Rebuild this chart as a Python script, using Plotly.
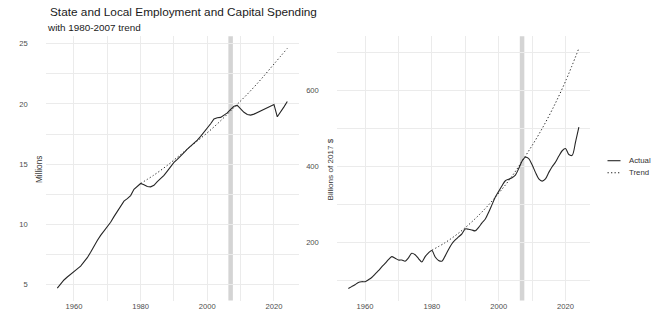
import plotly.graph_objects as go

# ---------------- data ----------------
years = list(range(1955, 2025))

employment = [
    4.73, 5.07, 5.40, 5.65, 5.85, 6.08, 6.32, 6.55, 6.87, 7.25,
    7.70, 8.22, 8.67, 9.10, 9.44, 9.82, 10.19, 10.65, 11.07, 11.45,
    11.94, 12.14, 12.40, 12.92, 13.17, 13.40, 13.30, 13.15, 13.12, 13.25,
    13.55, 13.80, 14.07, 14.42, 14.79, 15.15, 15.40, 15.65, 15.95, 16.25,
    16.50, 16.70, 17.00, 17.30, 17.65, 17.95, 18.35, 18.75, 18.85, 18.88,
    19.05, 19.25, 19.55, 19.80, 19.87, 19.60, 19.30, 19.12, 19.07, 19.15,
    19.28, 19.42, 19.55, 19.65, 19.80, 19.95, 18.93, 19.30, 19.75, 20.20,
]

capital = [
    79, 84, 89, 95, 97, 97, 102, 108, 117, 126,
    136, 145, 155, 163, 159, 154, 154, 151, 160, 172,
    168, 158, 149, 163, 173, 179, 162, 153, 151, 165,
    182, 197, 207, 215, 223, 236, 235, 233, 231, 240,
    252, 262, 280, 300, 320, 335, 350, 363, 367, 371,
    378, 395, 415, 425, 421, 405, 385, 368, 362, 368,
    385, 400, 412, 428, 442, 448, 432, 430, 465, 504,
]

trend_years = [1980, 1984, 1988, 1992, 1996, 2000, 2004, 2008, 2012, 2016, 2020, 2024]
employment_trend = [13.4, 14.1, 14.9, 15.8, 16.7, 17.6, 18.6, 19.7, 20.8, 22.0, 23.3, 24.6]
capital_trend = [180, 200, 225, 255, 290, 330, 375, 428, 485, 550, 625, 712]

recession_year = 2007

series_names = ["Actual", "Trend"]
title_text = "State and Local Employment and Capital Spending"
subtitle_text = "with 1980-2007 trend"
left_ylabel = "Millions"
right_ylabel = "Billions of 2017 $"

# ---------------- figure ----------------
W, H = 660, 330
FONT = "Liberation Sans, Arial, sans-serif"
LINE_COLOR = "#262626"
GRID = "#ebebeb"
TICK_COLOR = "#4d4d4d"
DOT = "1.3px,2.2px"

fig = go.Figure()

fig.add_trace(go.Scatter(x=years, y=employment, mode="lines", name=series_names[0],
                         line=dict(color=LINE_COLOR, width=1.1),
                         xaxis="x", yaxis="y", showlegend=False))
fig.add_trace(go.Scatter(x=trend_years, y=employment_trend, mode="lines", name=series_names[1],
                         line=dict(color=LINE_COLOR, width=1.0, dash=DOT, shape="spline"),
                         xaxis="x", yaxis="y", showlegend=False))
fig.add_trace(go.Scatter(x=years, y=capital, mode="lines", name=series_names[0],
                         line=dict(color=LINE_COLOR, width=1.1, shape="spline", smoothing=0.8),
                         xaxis="x2", yaxis="y2", showlegend=False))
fig.add_trace(go.Scatter(x=trend_years, y=capital_trend, mode="lines", name=series_names[1],
                         line=dict(color=LINE_COLOR, width=1.0, dash=DOT, shape="spline"),
                         xaxis="x2", yaxis="y2", showlegend=False))

def px_x(p):
    return p / W

def px_y(p):
    return 1 - p / H

xrange_ = [1951.55, 2027.45]
y_dom = [px_y(300.5), px_y(36.3)]

common_x = dict(range=xrange_, showline=False, zeroline=False, ticks="",
                tickvals=[1960, 1980, 2000, 2020],
                tickfont=dict(family=FONT, size=7.6, color=TICK_COLOR),
                showgrid=True, gridcolor=GRID, gridwidth=1,
                minor=dict(tickvals=[1950, 1970, 1990, 2010], showgrid=True,
                           gridcolor=GRID, gridwidth=0.6),
                automargin=False, fixedrange=True)
common_y = dict(showline=False, zeroline=False, ticks="",
                tickfont=dict(family=FONT, size=7.6, color=TICK_COLOR),
                showgrid=True, gridcolor=GRID, gridwidth=1,
                ticklabelstandoff=17, automargin=False, fixedrange=True)

fig.update_layout(
    width=W, height=H,
    margin=dict(l=0, r=0, t=0, b=0),
    paper_bgcolor="white", plot_bgcolor="white",
    xaxis=dict(domain=[px_x(45.8), px_x(298.8)], anchor="y", **common_x),
    xaxis2=dict(domain=[px_x(336.8), px_x(590.4)], anchor="y2", **common_x),
    yaxis=dict(domain=y_dom, anchor="x", range=[3.7, 25.6],
               tickvals=[5, 10, 15, 20, 25],
               minor=dict(tickvals=[7.5, 12.5, 17.5, 22.5], showgrid=True,
                          gridcolor=GRID, gridwidth=0.6),
               **common_y),
    yaxis2=dict(domain=y_dom, anchor="x2", range=[47.4, 743.6],
                tickvals=[200, 400, 600],
                minor=dict(tickvals=[100, 300, 500, 700], showgrid=True,
                           gridcolor=GRID, gridwidth=0.6),
                **common_y),
    showlegend=False,
    font=dict(family=FONT),
)

for xr, yr in (("x", "y domain"), ("x2", "y2 domain")):
    fig.add_shape(type="line", xref=xr, yref=yr, x0=recession_year, x1=recession_year,
                  y0=0, y1=1, line=dict(color="#d4d4d4", width=4.5), layer="below")

# legend (key lines + labels)
legend_rows = [(series_names[0], "solid", 160.7), (series_names[1], DOT, 172.7)]
for name, dash, ypx in legend_rows:
    fig.add_shape(type="line", xref="paper", yref="paper",
                  x0=px_x(607.5), x1=px_x(620.5), y0=px_y(ypx), y1=px_y(ypx),
                  line=dict(color=LINE_COLOR, width=1.1, dash=dash))
    fig.add_annotation(text=name, xref="paper", yref="paper",
                       x=px_x(626.5), y=px_y(ypx), xanchor="left", yanchor="middle",
                       showarrow=False,
                       font=dict(family=FONT, size=7.8, color="#333333"))

fig.add_annotation(text=title_text, xref="paper", yref="paper",
                   x=px_x(47.5), y=px_y(11.5), xanchor="left", yanchor="middle",
                   showarrow=False, font=dict(family=FONT, size=11.8, color="#1a1a1a"))
fig.add_annotation(text=subtitle_text, xref="paper", yref="paper",
                   x=px_x(45), y=px_y(27.5), xanchor="left", yanchor="middle",
                   showarrow=False, font=dict(family=FONT, size=9.9, color="#1a1a1a"))
fig.add_annotation(text=left_ylabel, xref="paper", yref="paper",
                   x=px_x(39), y=px_y(170), xanchor="center", yanchor="middle",
                   textangle=-90, showarrow=False,
                   font=dict(family=FONT, size=8.2, color="#333333"))
fig.add_annotation(text=right_ylabel, xref="paper", yref="paper",
                   x=px_x(330.3), y=px_y(169.2), xanchor="center", yanchor="middle",
                   textangle=-90, showarrow=False,
                   font=dict(family=FONT, size=8.1, color="#333333"))

fig.write_html("out.html")
